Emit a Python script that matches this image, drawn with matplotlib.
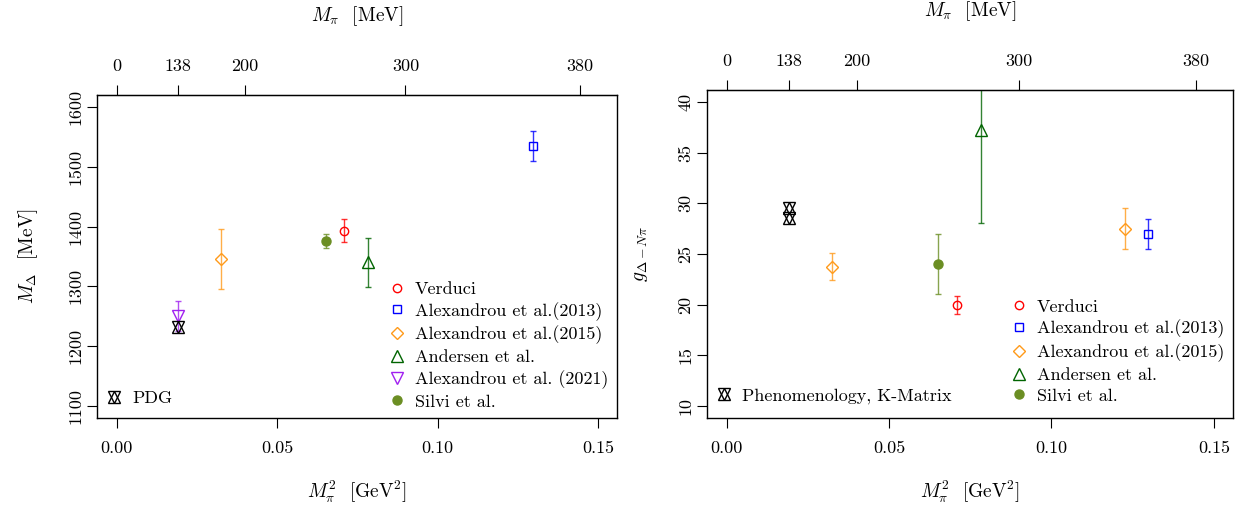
import numpy as np
import matplotlib.pyplot as plt

plt.rcParams['font.family'] = 'cmr10'
plt.rcParams['mathtext.fontset'] = 'cm'
plt.rcParams['axes.formatter.use_mathtext'] = True

# pion mass squared [GeV^2] and results
x_pdg = [0.019044]
m_pdg = [1232]

x_verduci = [0.0708]
m_verduci = [1393]
em_verduci = [19]
g_verduci = [19.95]
eg_verduci = [0.9]

x_alex13 = [0.1296]
m_alex13 = [1534]
em_alex13 = [25]
g_alex13 = [27.0]
eg_alex13 = [1.5]

x_alex15 = [0.0325]
m_alex15 = [1346]
em_alex15 = [50]
xg_alex15 = [0.0325, 0.1225]
g_alex15 = [23.75, 27.5]
eg_alex15 = [1.3, 2.0]

x_andersen = [0.0784]
m_andersen = [1340]
em_andersen = [41]
g_andersen = [37.2]
eg_andersen = [9.1]

x_alex21 = [0.019044]
m_alex21 = [1250]
em_alex21 = [25]

x_silvi = [0.0651]
m_silvi = [1376]
em_silvi = [11]
g_silvi = [24.0]
eg_silvi = [3.0]

x_kmat = [0.019044, 0.019044]
g_kmat = [29.5, 28.6]

top_labels = [0, 138, 200, 300, 380]
top_pos = [(m / 1000) ** 2 for m in top_labels]

c_red = '#FF0000'
c_blue = '#0000FF'
c_orange = '#FF9A1A'
c_green = '#006400'
c_purple = '#A020F0'
c_olive = '#6B8E23'

FS = 13


def series(ax, x, y, e, color, marker, label, ms=7, filled=False):
    if e is not None:
        ax.errorbar(x, y, yerr=e, fmt='none', ecolor=color, elinewidth=1,
                    capsize=2.5, capthick=1, alpha=0.8)
    mfc = color if filled else 'none'
    h, = ax.plot(x, y, ls='none', marker=marker, ms=ms, mfc=mfc, mec=color,
                 mew=1, label=label)
    return h


def star(ax, x, y):
    h1, = ax.plot(x, y, ls='none', marker='^', ms=8, mfc='none', mec='black', mew=1)
    h2, = ax.plot(x, y, ls='none', marker='v', ms=8, mfc='none', mec='black', mew=1)
    return (h1, h2)


def frame(ax, ylim, yticks):
    ax.set_xlim(-0.006, 0.156)
    ax.set_ylim(*ylim)
    ax.set_xticks([0.0, 0.05, 0.10, 0.15], ['0.00', '0.05', '0.10', '0.15'])
    ax.set_yticks(yticks, [str(t) for t in yticks])
    ax.tick_params(direction='out', length=7.2, width=0.8, labelsize=FS)
    ax.tick_params(axis='x', pad=9)
    ax.tick_params(axis='y', pad=3)
    for lab in ax.get_yticklabels():
        lab.set_rotation(90)
        lab.set_va('center')
    for s in ax.spines.values():
        s.set_linewidth(1.0)
    ax.set_xlabel(r'$M_\pi^2$  [GeV$^2$]', fontsize=FS + 1, labelpad=17)
    top = ax.secondary_xaxis('top')
    top.set_xticks(top_pos, [str(t) for t in top_labels])
    top.tick_params(direction='out', length=7.2, width=0.8, labelsize=FS, pad=8)
    top.set_xlabel(r'$M_\pi$  [MeV]', fontsize=FS + 1, labelpad=27)


fig = plt.figure(figsize=(12.45, 5.14), dpi=100)
ax1 = fig.add_axes([97.3 / 1245, 96 / 514, 520 / 1245, 323 / 514])
ax2 = fig.add_axes([707.3 / 1245, 96 / 514, 526 / 1245, 328 / 514])

# left: Delta mass
h = [
    series(ax1, x_verduci, m_verduci, em_verduci, c_red, 'o', 'Verduci', ms=6),
    series(ax1, x_alex13, m_alex13, em_alex13, c_blue, 's', 'Alexandrou et al.(2013)', ms=5.5),
    series(ax1, x_alex15, m_alex15, em_alex15, c_orange, 'D', 'Alexandrou et al.(2015)', ms=6),
    series(ax1, x_andersen, m_andersen, em_andersen, c_green, '^', 'Andersen et al.', ms=8),
    series(ax1, x_alex21, m_alex21, em_alex21, c_purple, 'v', 'Alexandrou et al. (2021)', ms=8),
    series(ax1, x_silvi, m_silvi, em_silvi, c_olive, 'o', 'Silvi et al.', ms=6.5, filled=True),
]
hp = star(ax1, x_pdg, m_pdg)
frame(ax1, (1080, 1620), [1100, 1200, 1300, 1400, 1500, 1600])
ax1.set_ylabel(r'$M_\Delta$  [MeV]', fontsize=FS + 1, labelpad=20)

leg = ax1.legend(h, [x.get_label() for x in h], loc='lower left',
                 bbox_to_anchor=(0.559, 0.026), frameon=False, fontsize=FS,
                 handlelength=1.0, handletextpad=0.5, labelspacing=0.28,
                 borderpad=0, borderaxespad=0)
ax1.add_artist(leg)
ax1.legend([hp], ['PDG'], loc='lower left', bbox_to_anchor=(0.015, 0.036),
           frameon=False, fontsize=FS, handlelength=1.0, handletextpad=0.5,
           borderpad=0, borderaxespad=0)

# right: coupling
h = [
    series(ax2, x_verduci, g_verduci, eg_verduci, c_red, 'o', 'Verduci', ms=6),
    series(ax2, x_alex13, g_alex13, eg_alex13, c_blue, 's', 'Alexandrou et al.(2013)', ms=5.5),
    series(ax2, xg_alex15, g_alex15, eg_alex15, c_orange, 'D', 'Alexandrou et al.(2015)', ms=6),
    series(ax2, x_andersen, g_andersen, eg_andersen, c_green, '^', 'Andersen et al.', ms=8),
    series(ax2, x_silvi, g_silvi, eg_silvi, c_olive, 'o', 'Silvi et al.', ms=6.5, filled=True),
]
hk = star(ax2, x_kmat, g_kmat)
frame(ax2, (8.8, 41.2), [10, 15, 20, 25, 30, 35, 40])
ax2.set_ylabel(r'$g_{\Delta-N\pi}$', fontsize=FS + 1, labelpad=20)

leg = ax2.legend(h, [x.get_label() for x in h], loc='lower left',
                 bbox_to_anchor=(0.575, 0.044), frameon=False, fontsize=FS,
                 handlelength=1.0, handletextpad=0.5, labelspacing=0.28,
                 borderpad=0, borderaxespad=0)
ax2.add_artist(leg)
ax2.legend([hk], ['Phenomenology, K-Matrix'], loc='lower left',
           bbox_to_anchor=(0.014, 0.044), frameon=False, fontsize=FS,
           handlelength=1.0, handletextpad=0.5, borderpad=0, borderaxespad=0)

fig.savefig('out.png', dpi=100)
